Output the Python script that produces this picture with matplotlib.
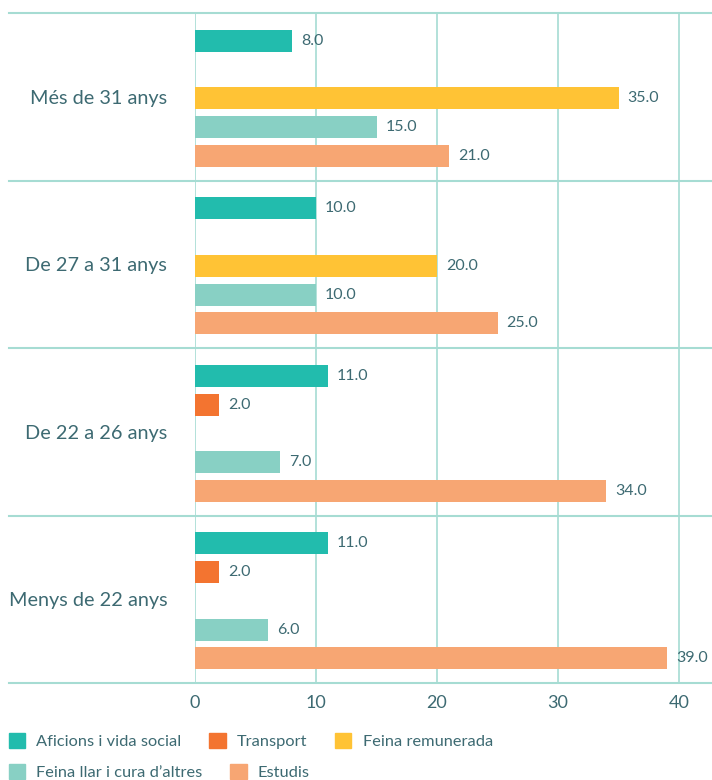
import numpy as np
import matplotlib.pyplot as plt
from matplotlib.patches import Patch

plt.rcParams['font.family'] = ['Lato', 'DejaVu Sans']

# Data (bottom to top group order)
groups = ['Menys de 22 anys', 'De 22 a 26 anys', 'De 27 a 31 anys', 'Més de 31 anys']
series = ['Aficions i vida social', 'Transport', 'Feina remunerada',
          'Feina llar i cura d\u2019altres', 'Estudis']
aficions = [11.0, 11.0, 10.0, 8.0]
transport = [2.0, 2.0, np.nan, np.nan]
feina_rem = [np.nan, np.nan, 20.0, 35.0]
feina_llar = [6.0, 7.0, 10.0, 15.0]
estudis = [39.0, 34.0, 25.0, 21.0]
values = [aficions, transport, feina_rem, feina_llar, estudis]
colors = ['#22bcad', '#f37430', '#ffc335', '#88d0c4', '#f7a673']
xticks = [0, 10, 20, 30, 40]

text_col = '#3d6a72'
grid_col = '#a6dcd3'

fig = plt.figure(figsize=(7.12, 7.8), dpi=100)
ax = fig.add_axes([195 / 712, 1 - 683 / 780, 1 - 195 / 712, (683 - 13) / 780])

y = np.arange(len(groups))
slot = 0.1716
bar_h = 0.131
for k, (vals, col) in enumerate(zip(values, colors)):
    pos = y + (2 - k) * slot - 0.01
    ax.barh(pos, vals, height=bar_h, color=col, zorder=3)
    for p, v in zip(pos, vals):
        if not np.isnan(v):
            ax.text(v + 0.75, p, f'{v:.1f}', va='center', ha='left',
                    fontsize=11.5, color=text_col, zorder=4)

ax.set_xlim(0, (712 - 195) / 12.1)
ax.set_ylim(-0.5, len(groups) - 0.5)
ax.set_xticks(xticks)
ax.set_yticks(y)
ax.set_yticklabels(groups)
ax.tick_params(axis='x', length=0, colors=text_col, labelsize=13, pad=9)
ax.tick_params(axis='y', length=0, colors=text_col, labelsize=14.3, pad=20)
for s in ax.spines.values():
    s.set_visible(False)
ax.grid(axis='x', color=grid_col, linewidth=1.2, zorder=0)

# group separators extending under labels
x0 = (9 - 195) / 517
for b in np.arange(-0.5, len(groups), 1.0):
    ax.plot([x0, 1], [b, b], color=grid_col, linewidth=1.5,
            transform=ax.get_yaxis_transform(), clip_on=False, zorder=1)

order1 = [0, 1, 2]
order2 = [3, 4]
for order, ypos in [(order1, 1 - 741 / 780), (order2, 1 - 772 / 780)]:
    handles = [Patch(color=colors[i]) for i in order]
    labels = [series[i] for i in order]
    fig.legend(handles, labels, loc='center left', bbox_to_anchor=(0.012, ypos),
               ncol=len(order), frameon=False, fontsize=11.8,
               handlelength=1.0, handleheight=1.0, handletextpad=0.68,
               columnspacing=1.7, labelcolor=text_col, borderaxespad=0,
               borderpad=0.0)

plt.savefig('out.png', dpi=100)
